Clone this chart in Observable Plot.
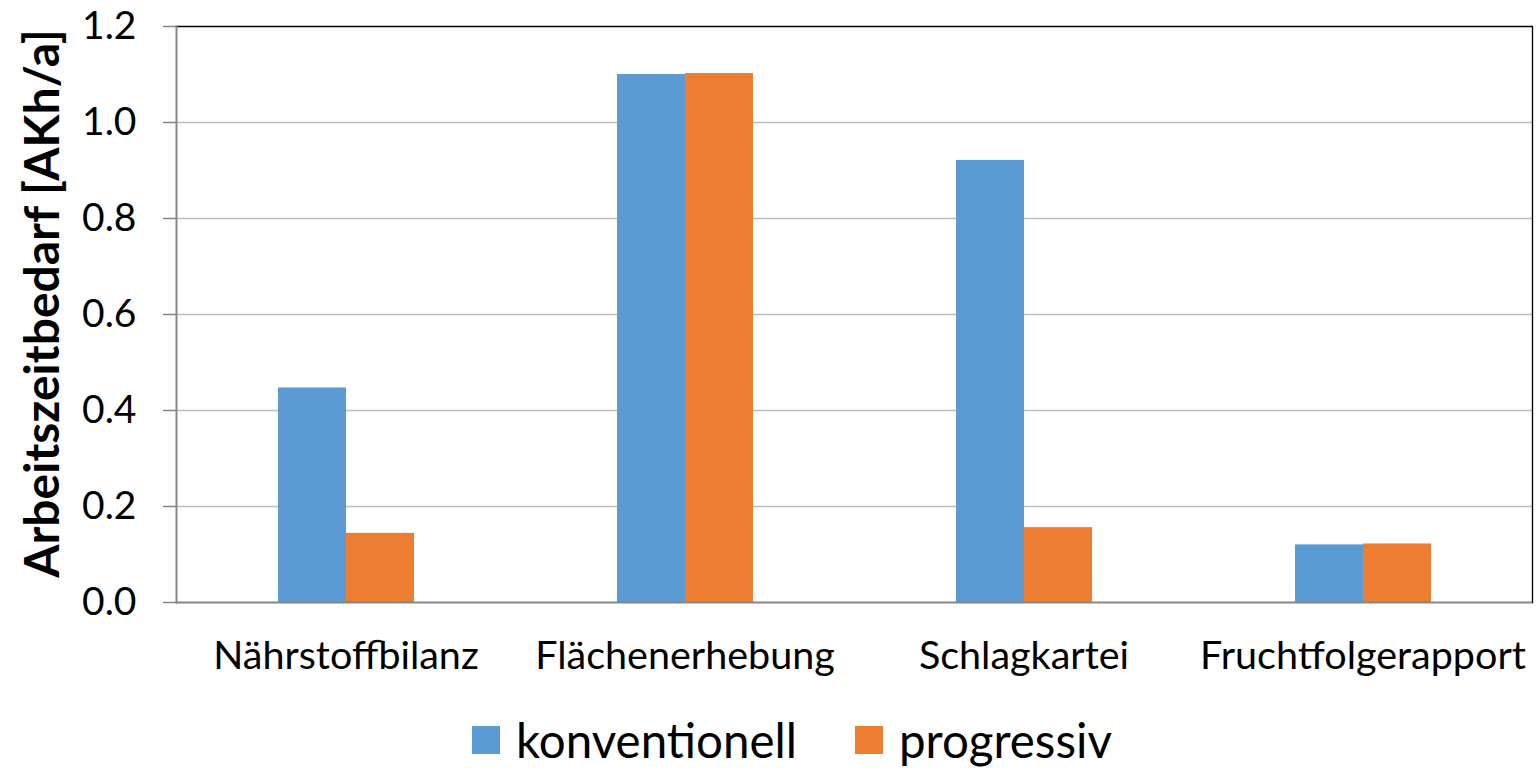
<!DOCTYPE html>
<html>
<head>
<meta charset="utf-8">
<script src="https://cdn.jsdelivr.net/npm/d3@7"></script>
<script src="https://cdn.jsdelivr.net/npm/@observablehq/plot@0.6"></script>
<style>
  body { margin: 0; background: #fff; font-family: Lato, "Open Sans", sans-serif; }
  #legend { position: relative; height: 68px; }
  .item { position: absolute; top: 11px; display: flex; align-items: center; font-size: 47.5px; color: #000; }
  .sw { width: 28px; height: 28px; margin-right: 16px; }
</style>
</head>
<body>
<div id="chart"></div>
<div id="legend"></div>
<script>
const categories = ["Nährstoffbilanz", "Flächenerhebung", "Schlagkartei", "Fruchtfolgerapport"];
const series = ["konventionell", "progressiv"];
const konventionell = [0.447, 1.100, 0.921, 0.120];
const progressiv = [0.144, 1.102, 0.156, 0.122];
const yTicks = [0, 0.2, 0.4, 0.6, 0.8, 1.0, 1.2];
const colors = ["#5B9BD5", "#ED7D31"];

const rows = [];
categories.forEach((c, i) => {
  rows.push({cat: c, series: series[0], value: konventionell[i]});
  rows.push({cat: c, series: series[1], value: progressiv[i]});
});

const chart = Plot.plot({
  width: 1539,
  height: 700,
  marginLeft: 175,
  marginRight: 7,
  marginTop: 26,
  marginBottom: 98,
  style: {fontFamily: "Lato, 'Open Sans', sans-serif", color: "#000", background: "#fff"},
  fx: {domain: categories, padding: 0, label: null},
  x: {domain: series, paddingInner: 0, paddingOuter: 1.475, axis: null},
  y: {domain: [0, 1.2], axis: null},
  color: {domain: series, range: colors},
  marks: [
    Plot.gridY(yTicks.slice(1, -1), {stroke: "#bdbdbd", strokeOpacity: 1, strokeWidth: 1.3}),
    Plot.ruleY([1.2], {stroke: "#000", strokeWidth: 1.3}),
    Plot.barY(rows, {fx: "cat", x: "series", y: "value", fill: "series"}),
    Plot.frame({facet: "super", anchor: "right", stroke: "#000", strokeWidth: 1.3}),
    Plot.frame({facet: "super", anchor: "left", stroke: "#868686", strokeWidth: 2}),
    Plot.ruleY([0], {stroke: "#868686", strokeWidth: 2}),
    Plot.axisY({ticks: yTicks, tickFormat: d3.format(".1f"), tickSize: 13, tickPadding: 27, fontSize: 39, stroke: "#868686", strokeWidth: 1.5, label: null}),
    Plot.axisFx({anchor: "bottom", tickSize: 0, tickPadding: 38, fontSize: 39.5, label: null}),
    Plot.text(["Arbeitszeitbedarf [AKh/a]"], {facet: "super", frameAnchor: "left", textAnchor: "middle", rotate: -90, dx: -133, dy: -11, fontSize: 48, fontWeight: "bold", fill: "#000"})
  ]
});
document.getElementById("chart").appendChild(chart);

const legend = document.getElementById("legend");
const lefts = [472, 855];
series.forEach((s, i) => {
  const item = document.createElement("div");
  item.className = "item";
  item.style.left = lefts[i] + "px";
  const sw = document.createElement("div");
  sw.className = "sw";
  sw.style.background = colors[i];
  item.appendChild(sw);
  item.appendChild(document.createTextNode(s));
  legend.appendChild(item);
});
</script>
</body>
</html>
